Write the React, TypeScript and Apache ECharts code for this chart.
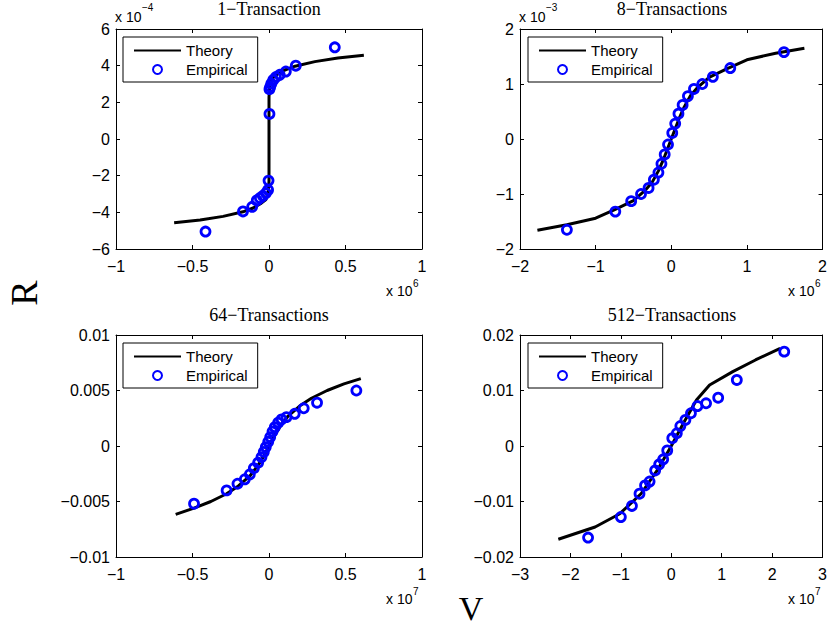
import React, { useEffect, useRef } from "react";
import * as echarts from "echarts";

// ---------- data (values in the units shown on each axis) ----------
const TITLES = ["1\u2212Transaction", "8\u2212Transactions", "64\u2212Transactions", "512\u2212Transactions"];
const SERIES_NAMES = ["Theory", "Empirical"];

// Panel 1: x in 10^6, y in 10^-4
const P1_THEORY_X = [-0.62, -0.45, -0.3, -0.17, -0.1, -0.05, -0.02, -0.005, 0, 0, 0.005, 0.02, 0.05, 0.1, 0.17, 0.3, 0.45, 0.62];
const P1_THEORY_Y = [-4.57, -4.42, -4.22, -3.97, -3.75, -3.5, -3.3, -2.85, -2.3, 2.3, 2.85, 3.3, 3.5, 3.75, 3.97, 4.22, 4.42, 4.57];
const P1_EMP_X = [-0.415, -0.17, -0.11, -0.08, -0.06, -0.04, -0.02, -0.006, -0.003, 0.003, 0.003, 0.008, 0.015, 0.028, 0.045, 0.07, 0.11, 0.175, 0.43];
const P1_EMP_Y = [-5.05, -3.95, -3.7, -3.35, -3.22, -3.1, -2.95, -2.78, -2.27, 1.37, 2.72, 2.85, 3.02, 3.22, 3.38, 3.5, 3.68, 4.0, 5.0];

// Panel 2: x in 10^6, y in 10^-3
const P2_THEORY_X = [-1.77, -1.38, -1.0, -0.74, -0.5, -0.35, -0.25, -0.17, -0.1, 0, 0.1, 0.17, 0.25, 0.35, 0.5, 0.74, 1.0, 1.38, 1.76];
const P2_THEORY_Y = [-1.66, -1.56, -1.44, -1.28, -1.12, -0.94, -0.78, -0.58, -0.36, 0, 0.36, 0.58, 0.78, 0.94, 1.12, 1.28, 1.44, 1.56, 1.65];
const P2_EMP_X = [-1.38, -0.74, -0.53, -0.4, -0.3, -0.23, -0.17, -0.13, -0.087, -0.043, 0.013, 0.052, 0.095, 0.15, 0.22, 0.3, 0.41, 0.55, 0.78, 1.49];
const P2_EMP_Y = [-1.65, -1.32, -1.13, -1.0, -0.89, -0.74, -0.61, -0.45, -0.28, -0.1, 0.11, 0.28, 0.46, 0.62, 0.78, 0.91, 1.0, 1.13, 1.29, 1.58];

// Panel 3: x in 10^7, y raw
const P3_THEORY_X = [-0.61, -0.49, -0.38, -0.277, -0.2, -0.125, -0.07, -0.03, 0, 0.03, 0.07, 0.125, 0.2, 0.277, 0.38, 0.49, 0.6];
const P3_THEORY_Y = [-0.00616, -0.0056, -0.005, -0.0043, -0.0036, -0.0027, -0.0017, -0.0008, 0, 0.0008, 0.0017, 0.0027, 0.0036, 0.0043, 0.005, 0.0056, 0.00607];
const P3_EMP_X = [-0.49, -0.277, -0.206, -0.158, -0.125, -0.099, -0.071, -0.049, -0.034, -0.021, -0.005, 0.008, 0.023, 0.038, 0.06, 0.082, 0.114, 0.168, 0.227, 0.314, 0.571];
const P3_EMP_Y = [-0.0052, -0.004, -0.0034, -0.003, -0.00255, -0.002, -0.0015, -0.001, -0.00053, -0.0001, 0.00038, 0.0008, 0.0013, 0.0017, 0.0021, 0.0024, 0.0026, 0.0029, 0.0034, 0.0039, 0.005];

// Panel 4: x in 10^7, y raw
const P4_THEORY_X = [-2.24, -1.51, -1.02, -0.6, -0.28, 0, 0.24, 0.5, 0.76, 1.22, 1.67, 2.16];
const P4_THEORY_Y = [-0.0168, -0.0146, -0.0122, -0.0086, -0.0044, 0, 0.0041, 0.0083, 0.011, 0.0134, 0.0155, 0.0176];
const P4_EMP_X = [-1.65, -1.0, -0.78, -0.63, -0.52, -0.43, -0.32, -0.24, -0.16, -0.08, 0.02, 0.11, 0.18, 0.28, 0.39, 0.52, 0.69, 0.93, 1.3, 2.24];
const P4_EMP_Y = [-0.0165, -0.0128, -0.0108, -0.0086, -0.0071, -0.0064, -0.0044, -0.0033, -0.0024, -0.0008, 0.0014, 0.0023, 0.0036, 0.0047, 0.0059, 0.0072, 0.0077, 0.0087, 0.0119, 0.017];

// axis ranges [min, max, interval]
const X_RANGES = [[-1, 1, 0.5], [-2, 2, 1], [-1, 1, 0.5], [-3, 3, 1]];
const Y_RANGES = [[-6, 6, 2], [-2, 2, 1], [-0.01, 0.01, 0.005], [-0.02, 0.02, 0.01]];
const X_EXPONENTS = ["6", "6", "7", "7"];
const Y_EXPONENTS = ["\u22124", "\u22123", "", ""];
const AXIS_LABEL_X = "V";
const AXIS_LABEL_Y = "R";

const THEORY = [
  [P1_THEORY_X, P1_THEORY_Y],
  [P2_THEORY_X, P2_THEORY_Y],
  [P3_THEORY_X, P3_THEORY_Y],
  [P4_THEORY_X, P4_THEORY_Y],
];
const EMPIRICAL = [
  [P1_EMP_X, P1_EMP_Y],
  [P2_EMP_X, P2_EMP_Y],
  [P3_EMP_X, P3_EMP_Y],
  [P4_EMP_X, P4_EMP_Y],
];

// ---------- layout ----------
const GRIDS = [
  { left: 116, top: 29, width: 306, height: 220 },
  { left: 520, top: 29, width: 304, height: 220 },
  { left: 116, top: 335, width: 306, height: 222 },
  { left: 520, top: 335, width: 304, height: 222 },
];
const LEGEND_POS = [
  { left: 123, top: 37 },
  { left: 528, top: 37 },
  { left: 123, top: 343 },
  { left: 528, top: 343 },
];

const SANS = "'Liberation Sans', Arial, Helvetica, sans-serif";
const SERIF = "'Liberation Serif', 'Times New Roman', serif";
const TICK_FONT = 16;

const fmt = (v: number) => String(parseFloat(v.toPrecision(10))).replace("-", "\u2212");

const zip = (xs: number[], ys: number[]) => xs.map((x, i) => [x, ys[i]]);

function buildOption() {
  const xAxis: any[] = [];
  const yAxis: any[] = [];
  const series: any[] = [];
  const title: any[] = [];
  const legend: any[] = [];
  const graphic: any[] = [];

  GRIDS.forEach((g, i) => {
    const [xmin, xmax, xint] = X_RANGES[i];
    const [ymin, ymax, yint] = Y_RANGES[i];
    const common = {
      type: "value",
      gridIndex: i,
      splitLine: { show: false },
      axisLine: { show: true, onZero: false, lineStyle: { color: "#000", width: 1 } },
      axisTick: { show: true, inside: true, length: 4, lineStyle: { color: "#000", width: 1 } },
    };
    xAxis.push({
      ...common,
      position: "bottom",
      min: xmin, max: xmax, interval: xint,
      axisLabel: { show: true, margin: 9, color: "#000", fontSize: TICK_FONT, fontFamily: SANS, formatter: fmt },
    });
    xAxis.push({
      ...common,
      position: "top",
      min: xmin, max: xmax, interval: xint,
      axisLabel: { show: false },
    });
    yAxis.push({
      ...common,
      position: "left",
      min: ymin, max: ymax, interval: yint,
      axisLabel: { show: true, margin: 6, color: "#000", fontSize: TICK_FONT, fontFamily: SANS, formatter: fmt },
    });
    yAxis.push({
      ...common,
      position: "right",
      min: ymin, max: ymax, interval: yint,
      axisLabel: { show: false },
    });

    series.push({
      name: SERIES_NAMES[0],
      type: "line",
      xAxisIndex: 2 * i,
      yAxisIndex: 2 * i,
      data: zip(THEORY[i][0], THEORY[i][1]),
      symbol: "none",
      smooth: false,
      lineStyle: { color: "#000", width: 3 },
      itemStyle: { color: "rgba(0,0,0,0)", borderWidth: 0 },
      z: 2,
    });
    series.push({
      name: SERIES_NAMES[1],
      type: "scatter",
      xAxisIndex: 2 * i,
      yAxisIndex: 2 * i,
      data: zip(EMPIRICAL[i][0], EMPIRICAL[i][1]),
      symbol: "circle",
      symbolSize: 9,
      itemStyle: { color: "rgba(0,0,0,0)", borderColor: "#0000ff", borderWidth: 2.8, opacity: 1 },
      z: 3,
    });

    title.push({
      text: TITLES[i],
      left: g.left + g.width / 2,
      top: g.top - 29,
      textAlign: "center",
      padding: 0,
      textStyle: { fontFamily: SERIF, fontSize: 18, fontWeight: "normal", color: "#000" },
    });

    legend.push({
      data: SERIES_NAMES,
      orient: "vertical",
      left: LEGEND_POS[i].left,
      top: LEGEND_POS[i].top,
      padding: [6, 10, 5, 10],
      itemGap: 4,
      itemWidth: 47,
      itemHeight: 9,
      backgroundColor: "#fff",
      borderColor: "#000",
      borderWidth: 1,
      borderRadius: 0,
      selectedMode: false,
      textStyle: { fontFamily: SANS, fontSize: 15, color: "#000", padding: [0, 0, 0, 0] },
    });

    // exponent labels
    if (Y_EXPONENTS[i]) {
      graphic.push({
        type: "text",
        x: g.left - 1,
        y: g.top - 19,
        style: { text: "x 10", font: `14px ${SANS}`, fill: "#000", align: "left", verticalAlign: "top" },
      });
      graphic.push({
        type: "text",
        x: g.left + 26,
        y: g.top - 27,
        style: { text: Y_EXPONENTS[i], font: `10px ${SANS}`, fill: "#000", align: "left", verticalAlign: "top" },
      });
    }
    graphic.push({
      type: "text",
      x: g.left + g.width - 36,
      y: g.top + g.height + 35,
      style: { text: "x 10", font: `14px ${SANS}`, fill: "#000", align: "left", verticalAlign: "top" },
    });
    graphic.push({
      type: "text",
      x: g.left + g.width - 9,
      y: g.top + g.height + 29,
      style: { text: X_EXPONENTS[i], font: `10px ${SANS}`, fill: "#000", align: "left", verticalAlign: "top" },
    });
  });

  graphic.push({
    type: "text",
    x: 24,
    y: 293,
    rotation: Math.PI / 2,
    style: { text: AXIS_LABEL_Y, font: `38px ${SERIF}`, fill: "#000", align: "center", verticalAlign: "middle" },
  });
  graphic.push({
    type: "text",
    x: 471,
    y: 608,
    style: { text: AXIS_LABEL_X, font: `34px ${SERIF}`, fill: "#000", align: "center", verticalAlign: "middle" },
  });

  return {
    animation: false,
    backgroundColor: "#fff",
    title,
    legend,
    grid: GRIDS.map((g) => ({ ...g, containLabel: false })),
    xAxis,
    yAxis,
    series,
    graphic,
  };
}

export default function App() {
  const ref = useRef<HTMLDivElement>(null);
  useEffect(() => {
    if (!ref.current) return;
    const chart = echarts.init(ref.current, undefined, { renderer: "svg" });
    chart.setOption(buildOption() as any);
    return () => chart.dispose();
  }, []);
  return (
    <div
      ref={ref}
      style={{ position: "absolute", left: 0, top: 0, width: 830, height: 625, background: "#fff" }}
    />
  );
}
